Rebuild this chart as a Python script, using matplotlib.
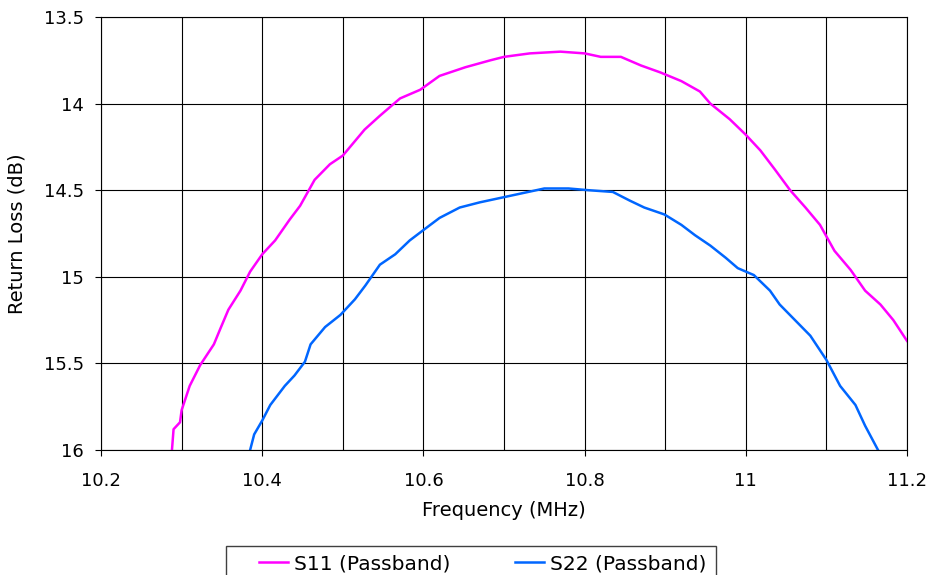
import numpy as np
import matplotlib
matplotlib.use('Agg')
import matplotlib.pyplot as plt
from matplotlib.ticker import MultipleLocator
from matplotlib.patches import Rectangle

# S11 (Passband)
s11_freq = [10.288, 10.290, 10.298, 10.300, 10.310, 10.323, 10.340, 10.348, 10.358, 10.373,
            10.385, 10.400, 10.416, 10.434, 10.447, 10.465, 10.484, 10.500, 10.527, 10.546,
            10.571, 10.596, 10.620, 10.652, 10.683, 10.700, 10.732, 10.770, 10.800, 10.820,
            10.845, 10.870, 10.894, 10.920, 10.943, 10.956, 10.980, 11.000, 11.018, 11.036,
            11.055, 11.074, 11.092, 11.110, 11.130, 11.148, 11.167, 11.183, 11.200]
s11_rl = [16.00, 15.88, 15.84, 15.77, 15.63, 15.51, 15.39, 15.30, 15.19, 15.08,
          14.97, 14.87, 14.79, 14.67, 14.59, 14.44, 14.35, 14.30, 14.15, 14.07,
          13.97, 13.92, 13.84, 13.79, 13.75, 13.73, 13.71, 13.70, 13.71, 13.73,
          13.73, 13.78, 13.82, 13.87, 13.93, 14.00, 14.09, 14.18, 14.27, 14.38,
          14.50, 14.60, 14.70, 14.85, 14.96, 15.08, 15.16, 15.25, 15.37]

# S22 (Passband)
s22_freq = [10.385, 10.390, 10.400, 10.410, 10.428, 10.440, 10.453, 10.460, 10.478, 10.497,
            10.515, 10.528, 10.546, 10.565, 10.583, 10.600, 10.620, 10.645, 10.670, 10.695,
            10.720, 10.750, 10.780, 10.805, 10.835, 10.856, 10.874, 10.899, 10.920, 10.937,
            10.956, 10.975, 10.990, 11.010, 11.030, 11.042, 11.061, 11.080, 11.100, 11.117,
            11.136, 11.148, 11.164]
s22_rl = [16.00, 15.91, 15.83, 15.74, 15.63, 15.57, 15.49, 15.39, 15.29, 15.22,
          15.13, 15.05, 14.93, 14.87, 14.79, 14.73, 14.66, 14.60, 14.57, 14.545,
          14.52, 14.49, 14.49, 14.50, 14.51, 14.56, 14.60, 14.64, 14.70, 14.76,
          14.82, 14.89, 14.95, 14.99, 15.08, 15.16, 15.25, 15.34, 15.48, 15.63,
          15.74, 15.86, 16.00]

plt.rcParams['font.family'] = 'DejaVu Sans'

fig = plt.figure(figsize=(9.32, 5.75), dpi=100)
ax = fig.add_axes([0.1084, 0.2174, 0.8648, 0.753])

ax.plot(s11_freq, s11_rl, color='#FF00FF', lw=1.8, label='S11 (Passband)')
ax.plot(s22_freq, s22_rl, color='#0066FF', lw=1.8, label='S22 (Passband)')

ax.set_xlim(10.2, 11.2)
ax.set_ylim(16, 13.5)
ax.xaxis.set_major_locator(MultipleLocator(0.2))
ax.xaxis.set_minor_locator(MultipleLocator(0.1))
ax.yaxis.set_major_locator(MultipleLocator(0.5))
ax.xaxis.set_major_formatter(plt.FuncFormatter(lambda v, p: f'{v:g}'))
ax.yaxis.set_major_formatter(plt.FuncFormatter(lambda v, p: f'{v:g}'))

ax.grid(which='both', axis='x', color='black', lw=0.8)
ax.grid(which='major', axis='y', color='black', lw=0.8)
ax.tick_params(which='major', direction='out', length=4.5, width=0.8, labelsize=13)
ax.tick_params(axis='x', pad=11)
ax.tick_params(axis='y', pad=8)
ax.tick_params(which='minor', length=0)
for s in ax.spines.values():
    s.set_linewidth(0.8)

# Labels
ax.set_xlabel('Frequency (MHz)', fontsize=14)
ax.set_ylabel('Return Loss (dB)', fontsize=14)
ax.xaxis.set_label_coords(0.5, -0.117)
ax.yaxis.set_label_coords(-0.092, 0.5)

# legend box (cut off at the bottom like the reference)
fig.patches.append(Rectangle((226 / 932, -0.05), 490 / 932, 0.05 + 29 / 575,
                             transform=fig.transFigure, fill=False,
                             edgecolor='#404040', lw=1.0))
fig.legend(loc='upper left', bbox_to_anchor=(259 / 932, 1 - 554 / 575), ncol=2,
           fontsize=14.5, frameon=False, handlelength=1.45, handletextpad=0.3,
           columnspacing=3.2, borderpad=0, borderaxespad=0)

fig.savefig('out.png', dpi=100)
